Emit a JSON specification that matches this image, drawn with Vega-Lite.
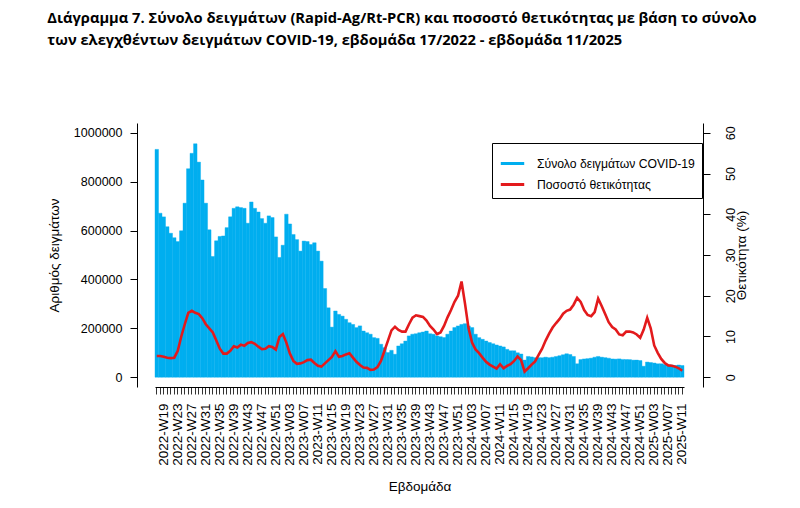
{
  "$schema": "https://vega.github.io/schema/vega-lite/v6.json",
  "width": 566,
  "height": 264,
  "autosize": "none",
  "padding": {"left": 137, "top": 123, "right": 97, "bottom": 121},
  "background": "white",
  "title": {
    "text": ["Διάγραμμα 7. Σύνολο δειγμάτων (Rapid-Ag/Rt-PCR) και ποσοστό θετικότητας με βάση το σύνολο", "των ελεγχθέντων δειγμάτων COVID-19, εβδομάδα 17/2022 - εβδομάδα 11/2025"],
    "anchor": "start",
    "font": "Open Sans",
    "fontWeight": "bold",
    "fontSize": 14.7,
    "lineHeight": 22,
    "color": "black",
    "dx": 0,
    "offset": 75
  },
  "config": {
    "view": {"stroke": null},
    "axis": {
      "grid": false,
      "labelFont": "Liberation Sans",
      "titleFont": "Liberation Sans",
      "labelColor": "black",
      "titleColor": "black",
      "titleFontWeight": "normal",
      "domainColor": "black",
      "tickColor": "black",
      "labelFontSize": 12.5,
      "titleFontSize": 13.5
    }
  },
  "data": {
    "values": [
      {"w": "2022-W17", "n": 932000, "p": 5.2},
      {"w": "2022-W18", "n": 671000, "p": 5.2},
      {"w": "2022-W19", "n": 656000, "p": 5.0},
      {"w": "2022-W20", "n": 616000, "p": 4.8},
      {"w": "2022-W21", "n": 589000, "p": 4.7},
      {"w": "2022-W22", "n": 571000, "p": 4.8},
      {"w": "2022-W23", "n": 555000, "p": 6.5},
      {"w": "2022-W24", "n": 599000, "p": 10.0},
      {"w": "2022-W25", "n": 712000, "p": 13.0},
      {"w": "2022-W26", "n": 853000, "p": 15.8},
      {"w": "2022-W27", "n": 916000, "p": 16.3},
      {"w": "2022-W28", "n": 955000, "p": 15.8},
      {"w": "2022-W29", "n": 880000, "p": 15.5},
      {"w": "2022-W30", "n": 807000, "p": 14.5},
      {"w": "2022-W31", "n": 712000, "p": 13.0},
      {"w": "2022-W32", "n": 603000, "p": 12.0},
      {"w": "2022-W33", "n": 494000, "p": 11.0},
      {"w": "2022-W34", "n": 558000, "p": 9.0},
      {"w": "2022-W35", "n": 576000, "p": 7.0},
      {"w": "2022-W36", "n": 578000, "p": 5.8},
      {"w": "2022-W37", "n": 612000, "p": 5.8},
      {"w": "2022-W38", "n": 656000, "p": 6.5},
      {"w": "2022-W39", "n": 691000, "p": 7.6},
      {"w": "2022-W40", "n": 697000, "p": 7.3},
      {"w": "2022-W41", "n": 694000, "p": 8.0},
      {"w": "2022-W42", "n": 691000, "p": 7.7},
      {"w": "2022-W43", "n": 630000, "p": 8.4},
      {"w": "2022-W44", "n": 717000, "p": 8.6},
      {"w": "2022-W45", "n": 691000, "p": 8.2},
      {"w": "2022-W46", "n": 676000, "p": 7.5},
      {"w": "2022-W47", "n": 649000, "p": 6.9},
      {"w": "2022-W48", "n": 630000, "p": 7.0},
      {"w": "2022-W49", "n": 660000, "p": 7.6},
      {"w": "2022-W50", "n": 653000, "p": 7.4},
      {"w": "2022-W51", "n": 574000, "p": 6.8},
      {"w": "2022-W52", "n": 490000, "p": 9.9},
      {"w": "2023-W01", "n": 540000, "p": 10.6},
      {"w": "2023-W02", "n": 667000, "p": 8.5},
      {"w": "2023-W03", "n": 627000, "p": 5.8},
      {"w": "2023-W04", "n": 584000, "p": 4.0},
      {"w": "2023-W05", "n": 563000, "p": 3.3},
      {"w": "2023-W06", "n": 516000, "p": 3.4},
      {"w": "2023-W07", "n": 557000, "p": 3.7},
      {"w": "2023-W08", "n": 555000, "p": 4.2},
      {"w": "2023-W09", "n": 543000, "p": 4.3},
      {"w": "2023-W10", "n": 550000, "p": 3.5},
      {"w": "2023-W11", "n": 516000, "p": 2.8},
      {"w": "2023-W12", "n": 475000, "p": 2.6},
      {"w": "2023-W13", "n": 363000, "p": 3.4},
      {"w": "2023-W14", "n": 284000, "p": 4.2},
      {"w": "2023-W15", "n": 205000, "p": 5.0},
      {"w": "2023-W16", "n": 271000, "p": 6.4},
      {"w": "2023-W17", "n": 257000, "p": 5.0},
      {"w": "2023-W18", "n": 250000, "p": 5.2},
      {"w": "2023-W19", "n": 237000, "p": 5.6},
      {"w": "2023-W20", "n": 223000, "p": 5.9},
      {"w": "2023-W21", "n": 216000, "p": 4.8},
      {"w": "2023-W22", "n": 203000, "p": 3.8},
      {"w": "2023-W23", "n": 210000, "p": 3.0},
      {"w": "2023-W24", "n": 189000, "p": 2.4},
      {"w": "2023-W25", "n": 182000, "p": 2.3},
      {"w": "2023-W26", "n": 176000, "p": 1.8},
      {"w": "2023-W27", "n": 162000, "p": 1.9},
      {"w": "2023-W28", "n": 159000, "p": 2.5},
      {"w": "2023-W29", "n": 135000, "p": 4.0},
      {"w": "2023-W30", "n": 121000, "p": 6.5},
      {"w": "2023-W31", "n": 101000, "p": 9.0},
      {"w": "2023-W32", "n": 110000, "p": 11.5},
      {"w": "2023-W33", "n": 94000, "p": 12.4},
      {"w": "2023-W34", "n": 128000, "p": 11.6},
      {"w": "2023-W35", "n": 137000, "p": 11.2},
      {"w": "2023-W36", "n": 148000, "p": 11.2},
      {"w": "2023-W37", "n": 169000, "p": 13.0},
      {"w": "2023-W38", "n": 176000, "p": 14.6},
      {"w": "2023-W39", "n": 178000, "p": 15.2},
      {"w": "2023-W40", "n": 182000, "p": 15.0},
      {"w": "2023-W41", "n": 185000, "p": 14.8},
      {"w": "2023-W42", "n": 189000, "p": 13.9},
      {"w": "2023-W43", "n": 178000, "p": 12.6},
      {"w": "2023-W44", "n": 176000, "p": 11.7},
      {"w": "2023-W45", "n": 169000, "p": 10.6},
      {"w": "2023-W46", "n": 166000, "p": 11.0},
      {"w": "2023-W47", "n": 162000, "p": 12.6},
      {"w": "2023-W48", "n": 176000, "p": 14.7},
      {"w": "2023-W49", "n": 189000, "p": 16.5},
      {"w": "2023-W50", "n": 203000, "p": 18.5},
      {"w": "2023-W51", "n": 210000, "p": 20.0},
      {"w": "2023-W52", "n": 216000, "p": 23.5},
      {"w": "2024-W01", "n": 219000, "p": 18.0},
      {"w": "2024-W02", "n": 210000, "p": 12.0},
      {"w": "2024-W03", "n": 203000, "p": 8.5},
      {"w": "2024-W04", "n": 176000, "p": 6.8},
      {"w": "2024-W05", "n": 162000, "p": 5.9},
      {"w": "2024-W06", "n": 155000, "p": 4.8},
      {"w": "2024-W07", "n": 148000, "p": 3.8},
      {"w": "2024-W08", "n": 142000, "p": 3.1},
      {"w": "2024-W09", "n": 137000, "p": 2.6},
      {"w": "2024-W10", "n": 132000, "p": 2.1},
      {"w": "2024-W11", "n": 128000, "p": 3.2},
      {"w": "2024-W12", "n": 124000, "p": 2.2},
      {"w": "2024-W13", "n": 114000, "p": 2.8},
      {"w": "2024-W14", "n": 108000, "p": 3.2},
      {"w": "2024-W15", "n": 108000, "p": 4.0},
      {"w": "2024-W16", "n": 100000, "p": 5.1},
      {"w": "2024-W17", "n": 95000, "p": 4.2},
      {"w": "2024-W18", "n": 70000, "p": 1.4},
      {"w": "2024-W19", "n": 85000, "p": 2.2},
      {"w": "2024-W20", "n": 83000, "p": 3.1},
      {"w": "2024-W21", "n": 80000, "p": 3.9},
      {"w": "2024-W22", "n": 80000, "p": 5.5},
      {"w": "2024-W23", "n": 80000, "p": 7.0},
      {"w": "2024-W24", "n": 82000, "p": 9.0},
      {"w": "2024-W25", "n": 80000, "p": 10.7},
      {"w": "2024-W26", "n": 82000, "p": 12.2},
      {"w": "2024-W27", "n": 85000, "p": 13.3},
      {"w": "2024-W28", "n": 88000, "p": 14.3},
      {"w": "2024-W29", "n": 92000, "p": 15.6},
      {"w": "2024-W30", "n": 96000, "p": 16.3},
      {"w": "2024-W31", "n": 93000, "p": 16.6},
      {"w": "2024-W32", "n": 85000, "p": 17.8},
      {"w": "2024-W33", "n": 55000, "p": 19.5},
      {"w": "2024-W34", "n": 72000, "p": 18.5},
      {"w": "2024-W35", "n": 75000, "p": 16.5},
      {"w": "2024-W36", "n": 76000, "p": 15.3},
      {"w": "2024-W37", "n": 78000, "p": 15.0},
      {"w": "2024-W38", "n": 82000, "p": 16.0},
      {"w": "2024-W39", "n": 85000, "p": 19.3},
      {"w": "2024-W40", "n": 82000, "p": 17.5},
      {"w": "2024-W41", "n": 80000, "p": 15.5},
      {"w": "2024-W42", "n": 78000, "p": 13.5},
      {"w": "2024-W43", "n": 75000, "p": 12.3},
      {"w": "2024-W44", "n": 74000, "p": 11.7},
      {"w": "2024-W45", "n": 75000, "p": 10.5},
      {"w": "2024-W46", "n": 73000, "p": 10.3},
      {"w": "2024-W47", "n": 72000, "p": 11.2},
      {"w": "2024-W48", "n": 72000, "p": 11.2},
      {"w": "2024-W49", "n": 70000, "p": 11.0},
      {"w": "2024-W50", "n": 70000, "p": 10.5},
      {"w": "2024-W51", "n": 68000, "p": 9.7},
      {"w": "2024-W52", "n": 45000, "p": 11.7},
      {"w": "2025-W01", "n": 62000, "p": 14.6},
      {"w": "2025-W02", "n": 60000, "p": 12.0},
      {"w": "2025-W03", "n": 58000, "p": 7.8},
      {"w": "2025-W04", "n": 55000, "p": 6.0},
      {"w": "2025-W05", "n": 55000, "p": 4.5},
      {"w": "2025-W06", "n": 52000, "p": 3.5},
      {"w": "2025-W07", "n": 50000, "p": 2.9},
      {"w": "2025-W08", "n": 50000, "p": 2.8},
      {"w": "2025-W09", "n": 48000, "p": 2.6},
      {"w": "2025-W10", "n": 50000, "p": 2.2},
      {"w": "2025-W11", "n": 48000, "p": 1.6}
    ]
  },
  "encoding": {
    "x": {
      "field": "w",
      "type": "ordinal",
      "sort": null,
      "scale": {"paddingInner": 0, "paddingOuter": 0, "range": [18, 547]},
      "axis": {
        "title": "Εβδομάδα",
        "labelAngle": -90,
        "labelAlign": "right",
        "labelBaseline": "middle",
        "labelFontSize": 13.5,
        "labelExpr": "toNumber(substring(datum.value, 6)) % 4 == 3 ? datum.value : ''",
        "labelOverlap": false,
        "tickSize": 7,
        "tickColor": "#333333",
        "labelPadding": 9,
        "titlePadding": 14
      }
    }
  },
  "layer": [
    {
      "mark": {"type": "bar", "stroke": "#00AEEF", "strokeWidth": 0.4},
      "encoding": {
        "y": {
          "field": "n",
          "type": "quantitative",
          "scale": {"domain": [-40000, 1040000], "nice": false, "zero": false},
          "axis": {
            "title": "Αριθμός δειγμάτων",
            "orient": "left",
            "values": [0, 200000, 400000, 600000, 800000, 1000000],
            "format": "d",
            "tickSize": 7,
            "labelPadding": 8,
            "titlePadding": 12
          }
        },
        "y2": {"datum": 0},
        "color": {
          "datum": "Σύνολο δειγμάτων COVID-19",
          "scale": {"domain": ["Σύνολο δειγμάτων COVID-19", "Ποσοστό θετικότητας"], "range": ["#00AEEF", "#E31A1C"]},
          "legend": {
            "title": null,
            "orient": "none",
            "legendX": 355,
            "legendY": 20,
            "strokeColor": "black",
            "fillColor": "white",
            "padding": 7,
            "symbolType": "stroke",
            "symbolSize": 550,
            "symbolStrokeWidth": 3,
            "rowPadding": 1,
            "labelOffset": 11,
            "labelLimit": 400,
            "labelFont": "Liberation Sans",
            "labelFontSize": 12.2,
            "labelColor": "black",
            "encode": {
              "symbols": {
                "update": {
                  "stroke": {"scale": "color", "field": "value"},
                  "strokeWidth": {"signal": "datum.label === 'Σύνολο δειγμάτων COVID-19' ? 6 : 3"}
                }
              }
            }
          }
        }
      }
    },
    {
      "mark": {"type": "line", "strokeWidth": 2.6},
      "encoding": {
        "y": {
          "field": "p",
          "type": "quantitative",
          "scale": {"domain": [-2.4, 62.4], "nice": false, "zero": false},
          "axis": {
            "title": "Θετικότητα (%)",
            "orient": "right",
            "values": [0, 10, 20, 30, 40, 50, 60],
            "labelAngle": -90,
            "labelAlign": "center",
            "labelBaseline": "top",
            "tickSize": 7,
            "labelPadding": 14,
            "titleAngle": 270,
            "titleX": 38,
            "titleY": 132,
            "titleAlign": "center",
            "titleBaseline": "middle"
          }
        },
        "color": {"datum": "Ποσοστό θετικότητας"}
      }
    }
  ],
  "resolve": {"scale": {"y": "independent"}}
}
